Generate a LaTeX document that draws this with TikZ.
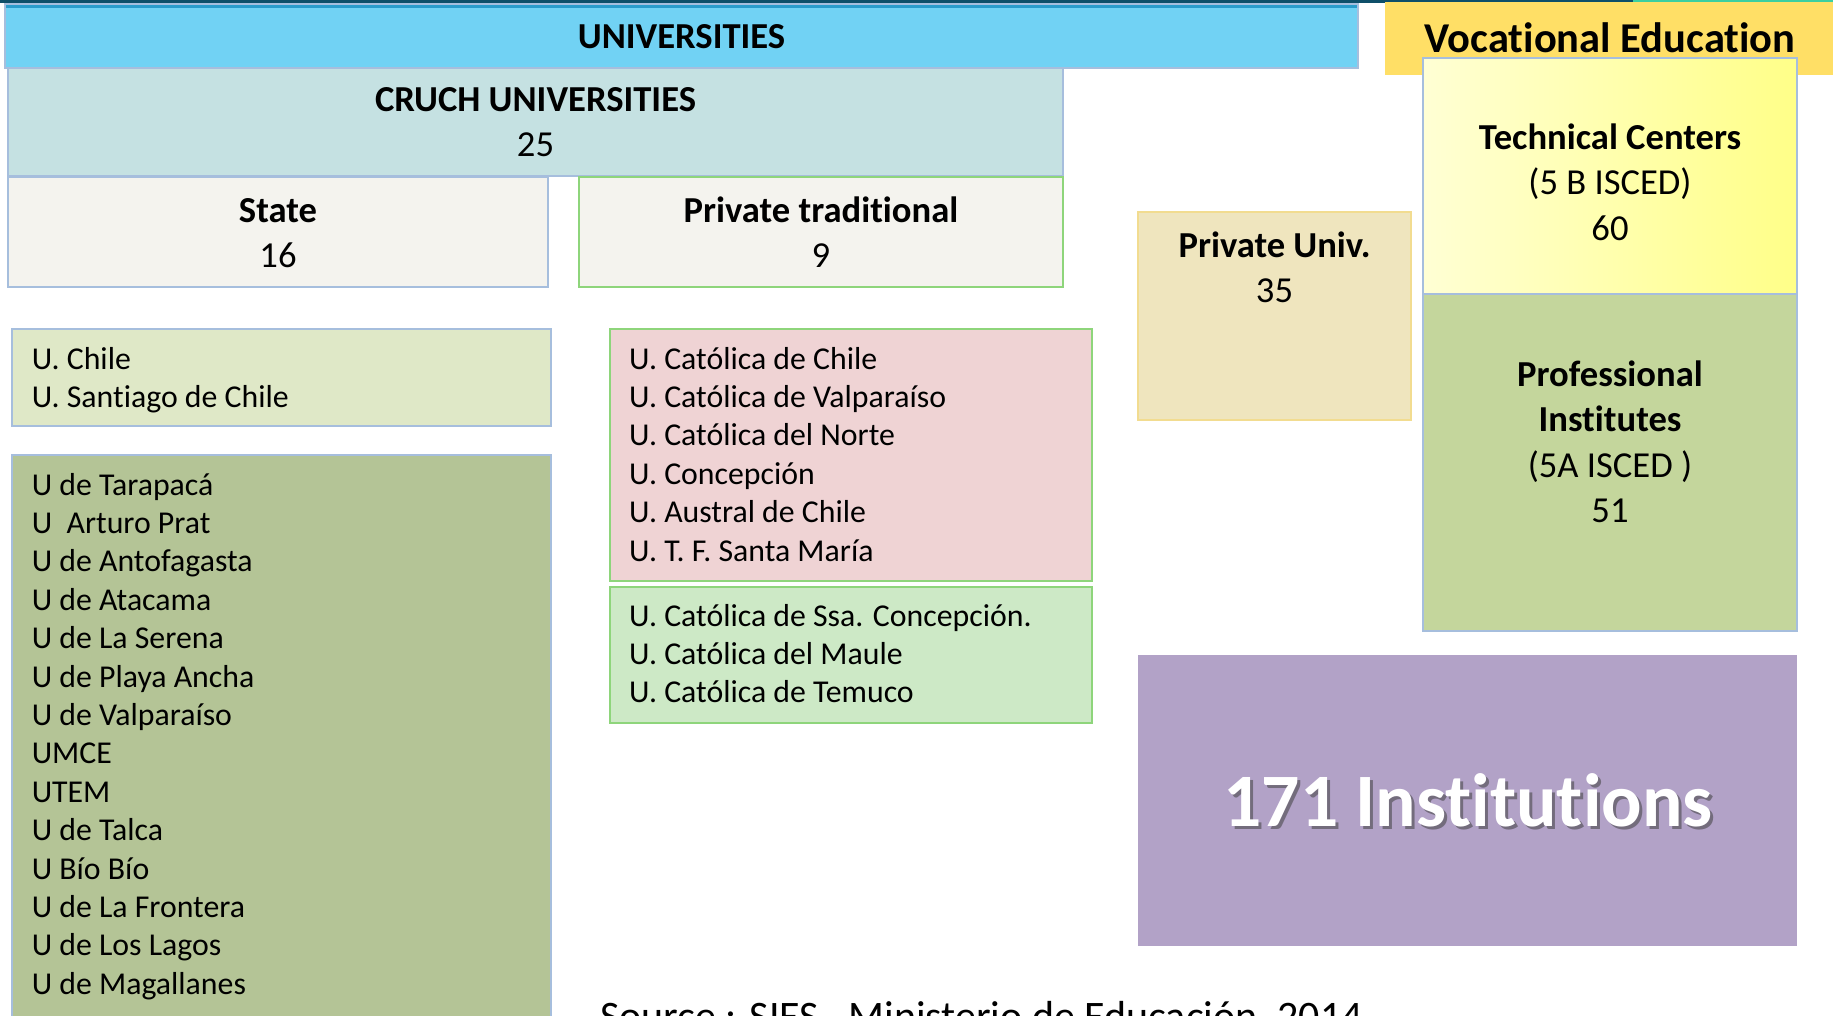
\documentclass[tikz,border=0pt]{standalone}
\usepackage{fontspec}
\setmainfont{Carlito}[Ligatures={NoCommon}]
\definecolor{topdark}{HTML}{0E4F69}
\definecolor{topgreen}{HTML}{3CCFA0}
\definecolor{univfill}{HTML}{71D2F4}
\definecolor{univtop}{HTML}{2A9CCB}
\definecolor{blueline}{HTML}{A6BEDD}
\definecolor{greenline}{HTML}{8ED57B}
\definecolor{vocfill}{HTML}{FFDF66}
\definecolor{techpale}{HTML}{FFFFD4}
\definecolor{techsat}{HTML}{FFFF88}
\definecolor{proffill}{HTML}{C4D69C}
\definecolor{punivfill}{HTML}{EFE5BE}
\definecolor{punivline}{HTML}{F2DC90}
\definecolor{cruchfill}{HTML}{C5E1E2}
\definecolor{paperfill}{HTML}{F4F3EE}
\definecolor{chilefill}{HTML}{DFE8C7}
\definecolor{slistfill}{HTML}{B4C496}
\definecolor{redfill}{HTML}{EFD3D4}
\definecolor{greenfill}{HTML}{CDE9C6}
\definecolor{purplefill}{HTML}{B2A2C7}
\tikzset{
  box/.style={rectangle, inner sep=0pt, line width=2.5pt},
  head/.style={inner sep=0pt, align=center, anchor=north,
    font=\fontsize{36.6}{45.5}\selectfont},
  listtxt/.style={inner sep=0pt, align=left, anchor=north west,
    font=\fontsize{31.8}{38.4}\selectfont},
}
\begin{document}
\begin{tikzpicture}[x=1pt,y=-1pt]
\useasboundingbox (0,0) rectangle (1833,1015);
\clip (0,0) rectangle (1833,1015);
% top strip
\fill[topdark] (0,0) rectangle (1633,3);
\fill[topgreen] (1633,0) rectangle (1833,2);
% boxes
\node[box, fill=univfill, draw=blueline, minimum width=1353pt, minimum height=64pt] (univ) at (681.5,36) {};
\fill[univtop] (6,5) rectangle (1357,8);
\node[box, fill=vocfill, minimum width=455pt, minimum height=73pt] (voc) at (1612.5,38.5) {};
\node[box, fill=cruchfill, draw=blueline, minimum width=1055pt, minimum height=108pt] (cruch) at (535.5,122) {};
\node[box, fill=paperfill, draw=blueline, minimum width=540pt, minimum height=110pt] (state) at (278,232) {};
\node[box, fill=paperfill, draw=greenline, minimum width=484pt, minimum height=110pt] (ptrad) at (821,232) {};
\node[box, fill=punivfill, draw=punivline, minimum width=273pt, minimum height=208pt] (puniv) at (1274.5,316) {};
\node[box, left color=techpale, right color=techsat, draw=blueline, minimum width=374pt, minimum height=236pt] (tech) at (1610,176) {};
\node[box, fill=proffill, draw=blueline, minimum width=374pt, minimum height=337pt] (prof) at (1610,462.5) {};
\node[box, fill=chilefill, draw=blueline, minimum width=539pt, minimum height=97pt] (uchile) at (281.5,377.5) {};
\node[box, fill=slistfill, draw=blueline, minimum width=539pt, minimum height=585pt] (slist) at (281.5,747.5) {};
\node[box, fill=redfill, draw=greenline, minimum width=482pt, minimum height=252pt] (red) at (851,455) {};
\node[box, fill=greenfill, draw=greenline, minimum width=482pt, minimum height=136pt] (green) at (851,655) {};
\node[box, fill=purplefill, minimum width=659pt, minimum height=291pt] (purple) at (1467.5,800.5) {};
% headers (anchor at first baseline minus strut height 31.85)
\node[head] (univ-t) at (681.5,16.15) {\strut\textbf{UNIVERSITIES}};
\node[head, font=\fontsize{42.5}{50}\selectfont] (voc-t) at (1610,17) {\strut\textbf{Vocational Education}};
\node[head] (cruch-t) at (535.5,79.15) {\strut\textbf{CRUCH UNIVERSITIES}\\25};
\node[head] (state-t) at (278,190.15) {\strut\textbf{State}\\16};
\node[head] (ptrad-t) at (821,190.15) {\strut\textbf{Private traditional}\\9};
\node[head] (puniv-t) at (1274.5,225.15) {\strut\textbf{Private Univ.}\\35};
\node[head] (tech-t) at (1610,117.15) {\strut\textbf{Technical Centers}\\(5 B ISCED)\\60};
\node[head] (prof-t) at (1610,354.15) {\strut\textbf{Professional}\\\textbf{Institutes}\\(5A ISCED )\\51};
% lists (anchor at first baseline minus strut height 26.88)
\node[listtxt] (uchile-t) at (31.6,342.1) {\strut U. Chile\\U. Santiago de Chile};
\node[listtxt] (slist-t) at (31.6,468.1) {\strut U de Tarapacá\\U\ \ Arturo Prat\\U de Antofagasta\\U de Atacama\\U de La Serena\\U de Playa Ancha\\U de Valparaíso\\UMCE\\UTEM\\U de Talca\\U Bío Bío\\U de La Frontera\\U de Los Lagos\\U de Magallanes};
\node[listtxt] (red-t) at (629,342.1) {\strut U. Católica de Chile\\U. Católica de Valparaíso\\U. Católica del Norte\\U. Concepción\\U. Austral de Chile\\U. T. F. Santa María};
\node[listtxt] (green-t) at (629,599.1) {\strut U. Católica de Ssa. Concepción.\\U. Católica del Maule\\U. Católica de Temuco};
% big label
\node[inner sep=0pt, anchor=base, font=\fontsize{75.5}{90}\selectfont\bfseries, text=black!75, opacity=0.55] (inst-s) at (1471,829) {171 Institutions};
\node[inner sep=0pt, anchor=base, font=\fontsize{75.5}{90}\selectfont\bfseries, text=white] (inst) at (1468,826) {171 Institutions};
% source
\node[inner sep=0pt, anchor=base west, font=\fontsize{42}{50}\selectfont] (source) at (600,1030) {Source : SIES,\ \ Ministerio de Educación, 2014};
\end{tikzpicture}
\end{document}
